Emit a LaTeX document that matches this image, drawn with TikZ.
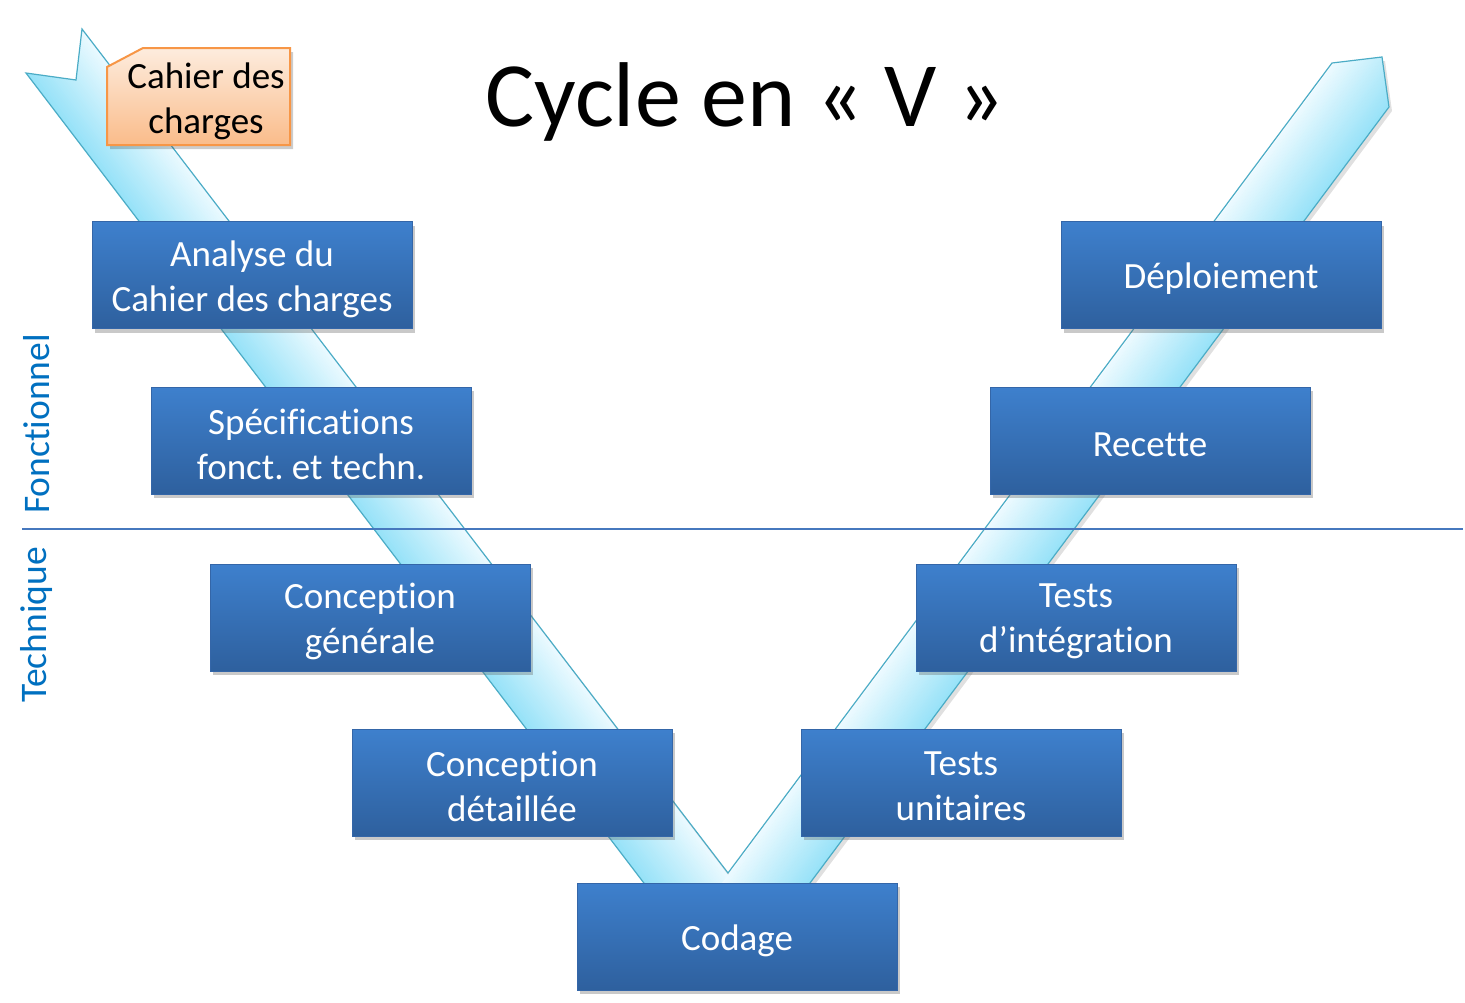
\documentclass[tikz,border=0pt]{standalone}
\usepackage{fontspec}
\setmainfont[Ligatures={NoCommon,NoContextual,NoRare},RawFeature={-liga;-clig;-dlig}]{Carlito}
\usetikzlibrary{shadows}
\frenchspacing
\definecolor{armdark}{RGB}{150,226,248}
\definecolor{armlight}{RGB}{236,250,255}
\definecolor{armline}{RGB}{75,172,198}
\definecolor{boxtop}{RGB}{62,128,205}
\definecolor{boxbot}{RGB}{46,96,158}
\definecolor{boxline}{RGB}{52,102,168}
\definecolor{ortop}{RGB}{253,236,222}
\definecolor{orbot}{RGB}{250,188,138}
\definecolor{orline}{RGB}{247,150,70}
\definecolor{lblue}{RGB}{0,112,192}
\definecolor{sepline}{RGB}{70,120,190}
\newcommand\nl{\kern0pt }% break ligatures
\newcommand\vstage[3]{%
  \node[vbox] (#1) at (#2) {};
  \node[vtext] (#1-t) at ([yshift=-4pt]#1.center) {#3};}
\begin{document}
\begin{tikzpicture}[x=1pt,y=-1pt,
  vbox/.style={draw=boxline, line width=1pt, top color=boxtop, bottom color=boxbot,
    minimum width=320pt, minimum height=107pt, inner sep=0pt,
    drop shadow={shadow xshift=3pt, shadow yshift=-4pt, opacity=0.35, fill=black!60}},
  vtext/.style={text=white, align=center, inner sep=0pt, font=\fontsize{37}{45}\selectfont},
  sidelabel/.style={rotate=90, text=lblue, font=\fontsize{37.5}{44}\selectfont, inner sep=0pt}]
\useasboundingbox[fill=white] (0,0) rectangle (1465,1002);

% V arrow outline points
\coordinate (t1) at (82,29);
\coordinate (t2) at (76,80);
\coordinate (t3) at (26,73);
\coordinate (b1) at (695,950);
\coordinate (b2) at (760,950);
\coordinate (h1) at (1389,107);
\coordinate (h2) at (1382,57);
\coordinate (h3) at (1332,63);
\coordinate (vin) at (728,873);

% shadow of the V
\fill[black, opacity=0.12] ([shift={(3,4)}]t1) -- ([shift={(3,4)}]t2) -- ([shift={(3,4)}]t3) -- ([shift={(3,4)}]b1) -- ([shift={(3,4)}]b2) -- ([shift={(3,4)}]h1) -- ([shift={(3,4)}]h2) -- ([shift={(3,4)}]h3) -- ([shift={(3,4)}]vin) -- cycle;

\begin{scope}
  \clip (t1) -- (t2) -- (t3) -- (b1) -- (b2) -- (h1) -- (h2) -- (h3) -- (vin) -- cycle;
  % left arm strips
  \foreach \i in {0,...,39}{
    \pgfmathsetmacro\xa{26+\i*2.24}
    \pgfmathsetmacro\xb{\xa+2.8}
    \pgfmathsetmacro\pct{100-\i*2.5}
    \fill[armdark!\pct!armlight] (\xa-76.3,-27) -- (\xb-76.3,-27) -- (\xb+686.7,973) -- (\xa+686.7,973) -- cycle;
  }
  % right arm strips
  \foreach \i in {0,...,39}{
    \pgfmathsetmacro\xa{722+\i*2.2}
    \pgfmathsetmacro\xb{\xa+2.8}
    \pgfmathsetmacro\pct{\i*2.5}
    \fill[armdark!\pct!armlight] (\xa-74.6,983) -- (\xb-74.6,983) -- (\xb+671.4,-17) -- (\xa+671.4,-17) -- cycle;
  }
\end{scope}
\draw[armline, line width=1.2pt, line join=miter] (t1) -- (t2) -- (t3) -- (b1) -- (b2) -- (h1) -- (h2) -- (h3) -- (vin) -- cycle;

% cahier des charges tag
\coordinate (c1) at (107,67);
\coordinate (c2) at (143,48);
\coordinate (c3) at (290,48);
\coordinate (c4) at (290,145);
\coordinate (c5) at (107,145);
\fill[black, opacity=0.2] ([shift={(3,4)}]c1) -- ([shift={(3,4)}]c2) -- ([shift={(3,4)}]c3) -- ([shift={(3,4)}]c4) -- ([shift={(3,4)}]c5) -- cycle;
\shade[top color=ortop, bottom color=orbot] (c1) -- (c2) -- (c3) -- (c4) -- (c5) -- cycle;
\draw[orline, line width=2pt] (c1) -- (c2) -- (c3) -- (c4) -- (c5) -- cycle;
\node[font=\fontsize{37}{45}\selectfont, align=center, inner sep=0pt] (cdc) at (206,101.5) {Cahier des\\charges};

% title
\node[font=\fontsize{92}{110}\selectfont, inner sep=0pt] (title) at (745,102) {Cycle en « V »};

% separator and side labels
\coordinate (sepL) at (22,529);
\coordinate (sepR) at (1463,529);
\draw[sepline, line width=1.3pt] (sepL) -- (sepR);
\node[sidelabel] (fonc) at (37,424) {Fonct\nl ionnel};
\node[sidelabel] (tech) at (37,625) {Technique};

% boxes
\vstage{analyse}{252,275}{Analyse du\\Cahier des charges}
\vstage{spec}{311,440.5}{Spécif\nl icat\nl ions\\fonct. et techn.}
\vstage{concg}{370,617.5}{Concept\nl ion\\générale}
\vstage{concd}{512,782.5}{Concept\nl ion\\détaillée}
\vstage{codage}{737,936.5}{Codage}
\vstage{tu}{961,782.5}{Tests\\unitaires}
\vstage{ti}{1076,617.5}{Tests\\d’intégrat\nl ion}
\vstage{recette}{1150,440.5}{Recet\nl te}
\vstage{deploi}{1221,275}{Déploiement}
\end{tikzpicture}
\end{document}
